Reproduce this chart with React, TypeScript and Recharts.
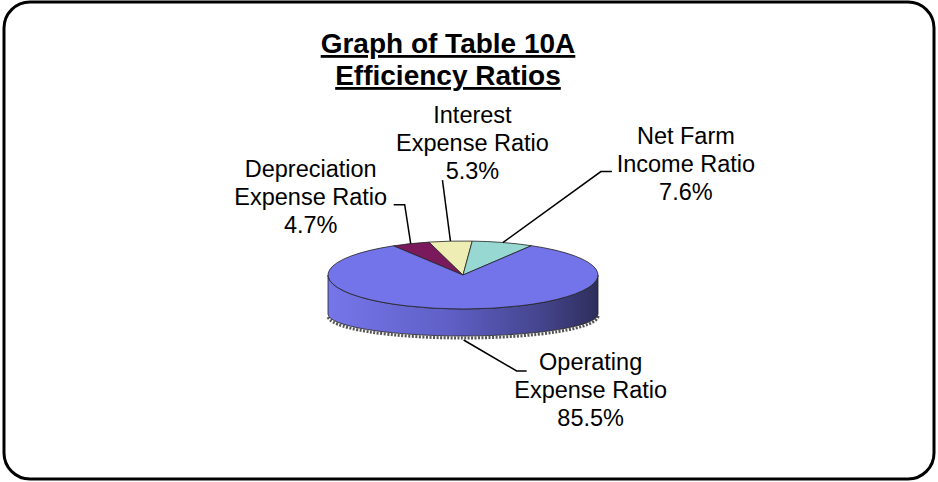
import React from 'react';
import { PieChart, Pie, Cell } from 'recharts';

// slice order is clockwise from the back-left of the pie
const names = ['Depreciation Expense Ratio', 'Interest Expense Ratio', 'Net Farm Income Ratio', 'Operating Expense Ratio'];
const labelLines = [
  ['Depreciation', 'Expense Ratio'],
  ['Interest', 'Expense Ratio'],
  ['Net Farm', 'Income Ratio'],
  ['Operating', 'Expense Ratio'],
];
const values = [4.7, 5.3, 7.6, 85.5];
const colors = ['#7a1a5c', '#eeeeb4', '#98d8d2', '#7373ea'];

const data = names.map((name, i) => ({ name, value: values[i] }));

const W = 938;
const H = 482;
const RAD = Math.PI / 180;
const TILT = 34 / 135; // squash of the top face
const BOTTOM_TILT = 22 / 135; // the bottom rim looks flatter (perspective)
const DROP = 39; // how far the bottom rim sits below the top at the sides
const FONT = '"Liberation Sans", Arial, sans-serif';

// where each callout goes, relative to the point on the slice edge
const callouts = [
  { elbow: [-6, -39], tail: -11, text: [-83, -28] },
  { elbow: [-8, -61], tail: 0, text: [30, -57] },
  { elbow: [98, -71], tail: 11, text: [74, -28] },
  { elbow: [53, 31], tail: 10, text: [64, -1] },
];

const Slice3D = (props: any) => {
  const { cx, cy, outerRadius: r, startAngle, endAngle, fill, index } = props;
  const ry = r * TILT;
  const rb = r * BOTTOM_TILT;
  const pt = (a: number) => `${cx + r * Math.cos(a * RAD)},${cy - ry * Math.sin(a * RAD)}`;
  const bt = (a: number, dy = 0) =>
    `${cx + r * Math.cos(a * RAD)},${cy + DROP - rb * Math.sin(a * RAD) + dy}`;
  const hi = Math.max(startAngle, endAngle);
  const lo = Math.min(startAngle, endAngle);
  const span = hi - lo;

  // front-facing parts of the outer edge (lower half of the ellipse)
  const walls: number[][] = [];
  for (let n = Math.floor(lo / 360) - 1; n <= Math.ceil(hi / 360) + 1; n++) {
    const a1 = Math.max(lo, 360 * n - 180);
    const a2 = Math.min(hi, 360 * n);
    if (a2 - a1 > 0.01) walls.push([a1, a2]);
  }

  const top =
    span >= 359.9
      ? null
      : `M${cx},${cy} L${pt(startAngle)} A${r},${ry} 0 ${span > 180 ? 1 : 0} ${endAngle < startAngle ? 1 : 0} ${pt(endAngle)} Z`;
  const gid = `side-${index}`;

  return (
    <g>
      <defs>
        <linearGradient id={gid} x1="0" y1="0" x2="1" y2="0">
          <stop offset="0%" stopColor="#7676ea" />
          <stop offset="45%" stopColor="#5f5fc6" />
          <stop offset="78%" stopColor="#45458f" />
          <stop offset="100%" stopColor="#2e2e5c" />
        </linearGradient>
      </defs>
      {walls.map(([a1, a2], i) => (
        <path
          key={`sh${i}`}
          d={`M${bt(a2, 2)} A${r},${rb} 0 0 1 ${bt(a1, 2)}`}
          fill="none"
          stroke="#555"
          strokeWidth={3}
          strokeDasharray="2 1.5"
        />
      ))}
      {walls.map(([a1, a2], i) => (
        <path
          key={`w${i}`}
          d={`M${pt(a2)} A${r},${ry} 0 0 1 ${pt(a1)} L${bt(a1)} A${r},${rb} 0 0 0 ${bt(a2)} Z`}
          fill={`url(#${gid})`}
          stroke="#222"
          strokeWidth={0.8}
        />
      ))}
      {top ? (
        <path d={top} fill={fill} stroke="#222" strokeWidth={0.8} />
      ) : (
        <ellipse cx={cx} cy={cy} rx={r} ry={ry} fill={fill} stroke="#222" strokeWidth={0.8} />
      )}
    </g>
  );
};

const renderLabel = (props: any) => {
  const { cx, cy, outerRadius: r, midAngle, index } = props;
  const s = Math.sin(midAngle * RAD);
  const front = s < 0;
  const sx = cx + r * Math.cos(midAngle * RAD);
  const sy = front ? cy + DROP - r * BOTTOM_TILT * s + 4 : cy - r * TILT * s;
  const c = callouts[index];
  const ex = sx + c.elbow[0];
  const ey = sy + c.elbow[1];
  const tx = ex + c.tail;
  const lines = [...labelLines[index], `${values[index].toFixed(1)}%`];
  return (
    <g key={`lbl${index}`}>
      <polyline points={`${sx},${sy} ${ex},${ey} ${tx},${ey}`} fill="none" stroke="#000" strokeWidth={1.5} />
      <text x={tx + c.text[0]} y={ey + c.text[1]} textAnchor="middle" fontFamily={FONT} fontSize={23.5} fill="#000">
        {lines.map((l, i) => (
          <tspan key={i} x={tx + c.text[0]} dy={i === 0 ? 0 : 28}>
            {l}
          </tspan>
        ))}
      </text>
    </g>
  );
};

export default function App() {
  return (
    <div style={{ position: 'absolute', left: 0, top: 0, width: W, height: H, background: '#fff' }}>
      <svg width={W} height={H} style={{ position: 'absolute', left: 0, top: 0 }}>
        <rect x={4} y={2} width={930} height={477} rx={26} ry={26} fill="#fff" stroke="#000" strokeWidth={3} />
        <text
          x={448}
          y={53}
          textAnchor="middle"
          fontFamily={FONT}
          fontWeight="bold"
          fontSize={28}
          style={{ textDecoration: 'underline' }}
        >
          Graph of Table 10A
        </text>
        <text
          x={448}
          y={85}
          textAnchor="middle"
          fontFamily={FONT}
          fontWeight="bold"
          fontSize={28}
          style={{ textDecoration: 'underline' }}
        >
          Efficiency Ratios
        </text>
      </svg>
      <div style={{ position: 'absolute', left: 0, top: 0 }}>
        <PieChart width={W} height={H} margin={{ top: 0, right: 0, bottom: 0, left: 0 }}>
          <Pie
            data={data}
            dataKey="value"
            nameKey="name"
            cx={463}
            cy={275}
            outerRadius={135}
            startAngle={121}
            endAngle={-239}
            stroke="none"
            shape={Slice3D}
            activeShape={Slice3D}
            inactiveShape={Slice3D}
            label={renderLabel}
            labelLine={false}
            isAnimationActive={false}
          >
            {data.map((d, i) => (
              <Cell key={d.name} fill={colors[i]} />
            ))}
          </Pie>
        </PieChart>
      </div>
    </div>
  );
}
